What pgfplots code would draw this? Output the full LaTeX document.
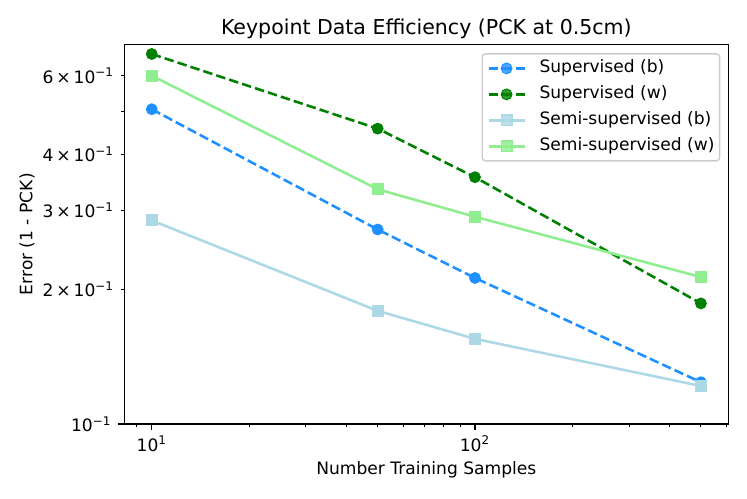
\documentclass[border=0pt]{standalone}
\usepackage{fontspec}
\setmainfont{DejaVu Sans}
\usepackage{pgfplots}
\pgfplotsset{compat=1.18}
\definecolor{dodgerblue}{RGB}{30,144,255}
\definecolor{mplgreen}{RGB}{0,128,0}
\definecolor{lightblue}{RGB}{173,216,230}
\definecolor{lightgreen}{RGB}{144,238,144}
\begin{document}
\begin{tikzpicture}
\useasboundingbox (-72.7pt,-43.3pt) rectangle (364.2pt,248pt);
\begin{axis}[
  at={(0,0)}, anchor=south west, scale only axis,
  width=353.3pt, height=222pt,
  xmode=log, ymode=log,
  xmin=8.224, xmax=608.1, ymin=0.1, ymax=0.7047,
  axis line style={black, line width=0.8pt},
  tick align=outside, tick pos=left,
  major tick length=3.5pt, minor tick length=2pt,
  every tick/.style={black, line width=0.8pt},
  every minor tick/.style={black, line width=0.6pt},
  xtick={10,100}, xticklabels={10\textsuperscript{1},10\textsuperscript{2}},
  minor xtick={9,20,30,40,50,60,70,80,90,200,300,400,500,600},
  ytick={0.1}, yticklabels={10\textsuperscript{−1}},
  extra y ticks={0.2,0.3,0.4,0.6},
  extra y tick labels={2{\,}×{\,}10\textsuperscript{−1},3{\,}×{\,}10\textsuperscript{−1},4{\,}×{\,}10\textsuperscript{−1},6{\,}×{\,}10\textsuperscript{−1}},
  extra y tick style={major tick length=2pt, every major tick/.style={black, line width=0.6pt}},
  minor ytick={0.5},
  /pgf/number format/assume math mode=true,
  ticklabel style={font=\fontsize{10}{12}\selectfont},
  xticklabel style={anchor=base, yshift=-12.3pt},
  yticklabel style={anchor=east, inner sep=0pt, xshift=-3.9pt},
  legend cell align=left,
  legend image code/.code={\draw[mark repeat=2,mark phase=2,#1] plot coordinates {(0pt,0pt) (10.5pt,0pt) (21pt,0pt)};},
  legend style={at={(rel axis cs:1,1)}, anchor=north east, xshift=-4.7pt, yshift=-5.1pt,
    draw=white!80!black, line width=0.8pt, rounded corners=2pt, fill=white, fill opacity=0.8, text opacity=1,
    font=\fontsize{10}{12}\selectfont, inner xsep=3pt, inner ysep=3.5pt, row sep=5.2pt,
    nodes={inner sep=0pt, text height=7.5pt, text depth=2.5pt},
    /tikz/every odd column/.append style={column sep=8pt}},
]
\addplot[dodgerblue, line width=1.5pt, dash pattern=on 5.55pt off 2.4pt, mark=*, mark size=3.2pt, mark options={solid, line width=0.5pt}]
  coordinates {(10,0.505) (50,0.272) (100,0.212) (500,0.124)};
\addlegendentry{Supervised (b)}
\addplot[mplgreen, line width=1.5pt, dash pattern=on 5.55pt off 2.4pt, mark=*, mark size=3.2pt, mark options={solid, line width=0.5pt}]
  coordinates {(10,0.671) (50,0.457) (100,0.356) (500,0.186)};
\addlegendentry{Supervised (w)}
\addplot[lightblue, line width=1.5pt, mark=square*, mark size=3pt, mark options={solid, line width=1pt}]
  coordinates {(10,0.285) (50,0.179) (100,0.155) (500,0.1216)};
\addlegendentry{Semi-supervised (b)}
\addplot[lightgreen, line width=1.5pt, mark=square*, mark size=3pt, mark options={solid, line width=1pt}]
  coordinates {(10,0.600) (50,0.3345) (100,0.2905) (500,0.213)};
\addlegendentry{Semi-supervised (w)}
\end{axis}
\node[anchor=base, font=\fontsize{12}{14}\selectfont, inner sep=0pt] at (176.65pt,227.6pt) {Keypoint Data Efficiency (PCK at 0.5cm)};
\node[anchor=base, font=\fontsize{10}{12}\selectfont, inner sep=0pt] at (176.65pt,-29.8pt) {Number Training Samples};
\node[anchor=base, rotate=90, font=\fontsize{10}{12}\selectfont, inner sep=0pt] at (-53.8pt,111pt) {Error (1 - PCK)};
\end{tikzpicture}
\end{document}
